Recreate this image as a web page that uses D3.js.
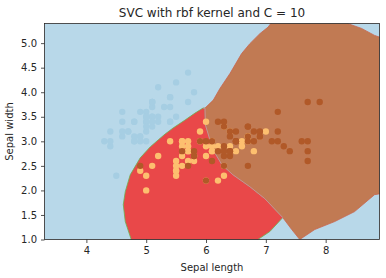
<!DOCTYPE html>
<html>
<head>
<meta charset="utf-8">
<script src="https://cdn.jsdelivr.net/npm/d3@7"></script>
<style>
  body { margin: 0; background: #fff; }
  text { font-family: "DejaVu Sans", sans-serif; fill: #262626; }
</style>
</head>
<body>
<div id="chart"></div>
<script>
// iris: sepal length / sepal width, grouped by class
const setosa = [
  [5.1,3.5],[4.9,3.0],[4.7,3.2],[4.6,3.1],[5.0,3.6],[5.4,3.9],[4.6,3.4],[5.0,3.4],[4.4,2.9],[4.9,3.1],
  [5.4,3.7],[4.8,3.4],[4.8,3.0],[4.3,3.0],[5.8,4.0],[5.7,4.4],[5.4,3.9],[5.1,3.5],[5.7,3.8],[5.1,3.8],
  [5.4,3.4],[5.1,3.7],[4.6,3.6],[5.1,3.3],[4.8,3.4],[5.0,3.0],[5.0,3.4],[5.2,3.5],[5.2,3.4],[4.7,3.2],
  [4.8,3.1],[5.4,3.4],[5.2,4.1],[5.5,4.2],[4.9,3.1],[5.0,3.2],[5.5,3.5],[4.9,3.6],[4.4,3.0],[5.1,3.4],
  [5.0,3.5],[4.5,2.3],[4.4,3.2],[5.0,3.5],[5.1,3.8],[4.8,3.0],[5.1,3.8],[4.6,3.2],[5.3,3.7],[5.0,3.3]
];
const versicolor = [
  [7.0,3.2],[6.4,3.2],[6.9,3.1],[5.5,2.3],[6.5,2.8],[5.7,2.8],[6.3,3.3],[4.9,2.4],[6.6,2.9],[5.2,2.7],
  [5.0,2.0],[5.9,3.0],[6.0,2.2],[6.1,2.9],[5.6,2.9],[6.7,3.1],[5.6,3.0],[5.8,2.7],[6.2,2.2],[5.6,2.5],
  [5.9,3.2],[6.1,2.8],[6.3,2.5],[6.1,2.8],[6.4,2.9],[6.6,3.0],[6.8,2.8],[6.7,3.0],[6.0,2.9],[5.7,2.6],
  [5.5,2.4],[5.5,2.4],[5.8,2.7],[6.0,2.7],[5.4,3.0],[6.0,3.4],[6.7,3.1],[6.3,2.3],[5.6,3.0],[5.5,2.5],
  [5.5,2.6],[6.1,3.0],[5.8,2.6],[5.0,2.3],[5.6,2.7],[5.7,3.0],[5.7,2.9],[6.2,2.9],[5.1,2.5],[5.7,2.8]
];
const virginica = [
  [6.3,3.3],[5.8,2.7],[7.1,3.0],[6.3,2.9],[6.5,3.0],[7.6,3.0],[4.9,2.5],[7.3,2.9],[6.7,2.5],[7.2,3.6],
  [6.5,3.2],[6.4,2.7],[6.8,3.0],[5.7,2.5],[5.8,2.8],[6.4,3.2],[6.5,3.0],[7.7,3.8],[7.7,2.6],[6.0,2.2],
  [6.9,3.2],[5.6,2.8],[7.7,2.8],[6.3,2.7],[6.7,3.3],[7.2,3.2],[6.2,2.8],[6.1,3.0],[6.4,2.8],[7.2,3.0],
  [7.4,2.8],[7.9,3.8],[6.4,2.8],[6.3,2.8],[6.1,2.6],[7.7,3.0],[6.3,3.4],[6.4,3.1],[6.0,3.0],[6.9,3.1],
  [6.7,3.1],[6.9,3.1],[5.8,2.7],[6.8,3.2],[6.7,3.3],[6.7,3.0],[6.3,2.5],[6.5,3.0],[6.2,3.4],[5.9,3.0]
];

// decision region outlines (data units); the rest is setosa
const versicolorRegion = [
  [4.75,0.9],[4.75,1.0],[4.65,1.365],[4.617,1.71],[4.65,1.974],[4.733,2.318],[4.9,2.663],[5.067,2.886],
  [5.2,3.028],[5.317,3.15],[5.45,3.272],[5.65,3.434],[5.817,3.576],[5.95,3.677],[5.983,3.677],
  [5.99,3.333],[6.117,2.826],[6.267,2.521],[6.45,2.318],[6.733,2.075],[6.983,1.832],[7.283,1.446],
  [7.067,1.162],[6.867,1.0],[6.85,0.9]
];
const virginicaRegion = [
  [5.983,3.677],[6.122,3.84],[6.233,4.077],[6.4,4.381],[6.595,4.787],[6.733,4.99],[6.9,5.193],
  [7.038,5.327],[7.083,5.4],[7.1,5.5],[8.3,5.5],[8.367,5.4],[8.6,5.3],[8.817,5.158],[9.0,5.08],
  [9.0,1.95],[8.817,1.913],[8.483,1.568],[8.15,1.365],[7.817,1.203],[7.567,1.0],[7.433,1.203],
  [7.283,1.446],[6.983,1.832],[6.733,2.075],[6.45,2.318],[6.267,2.521],[6.117,2.826],[5.99,3.333]
];

const xTicks = [4, 5, 6, 7, 8];
const yTicks = [1.0, 1.5, 2.0, 2.5, 3.0, 3.5, 4.0, 4.5, 5.0];

const W = 386, H = 278;
const margin = {left: 44.5, top: 23.5, right: 6.5, bottom: 38.5};
const w = W - margin.left - margin.right;
const h = H - margin.top - margin.bottom;

const svg = d3.select("#chart").append("svg")
  .attr("width", W)
  .attr("height", H);

const x = d3.scaleLinear().domain([3.3, 8.9]).range([0, w]);
const y = d3.scaleLinear().domain([1.0, 5.4]).range([h, 0]);

const g = svg.append("g").attr("transform", `translate(${margin.left},${margin.top})`);

svg.append("defs").append("clipPath").attr("id", "plotclip")
  .append("rect").attr("width", w).attr("height", h);

const plot = g.append("g").attr("clip-path", "url(#plotclip)");

// setosa region = background
plot.append("rect")
  .attr("width", w).attr("height", h)
  .attr("fill", "#b8d8e9");

const line = d3.line().x(d => x(d[0])).y(d => y(d[1]));

plot.append("path")
  .attr("d", line(versicolorRegion) + "Z")
  .attr("fill", "#e94849")
  .attr("stroke", "#6fb04c")
  .attr("stroke-width", 0.8);

plot.append("path")
  .attr("d", line(virginicaRegion) + "Z")
  .attr("fill", "#c17a53")
  .attr("stroke", "#c9654e")
  .attr("stroke-width", 0.8);

// boundary between red and brown is a pale line
plot.append("path")
  .attr("d", line(versicolorRegion.slice(13, 22)))
  .attr("fill", "none")
  .attr("stroke", "#c99aa8")
  .attr("stroke-width", 0.8);

// scatter, drawn in class order
const groups = [
  {pts: setosa, color: "#a6cee3"},
  {pts: versicolor, color: "#fdbf6f"},
  {pts: virginica, color: "#b15928"}
];
groups.forEach(grp => {
  plot.append("g").selectAll("circle")
    .data(grp.pts)
    .enter().append("circle")
    .attr("cx", d => x(d[0]))
    .attr("cy", d => y(d[1]))
    .attr("r", 3.2)
    .attr("fill", grp.color);
});

// axes
const xAxis = d3.axisBottom(x).tickValues(xTicks).tickFormat(d3.format("d")).tickSizeOuter(0).tickSize(3.5).tickPadding(4);
const yAxis = d3.axisLeft(y).tickValues(yTicks).tickFormat(d3.format(".1f")).tickSizeOuter(0).tickSize(3.5).tickPadding(4);

const gx = g.append("g").attr("transform", `translate(0,${h})`).call(xAxis);
const gy = g.append("g").call(yAxis);
[gx, gy].forEach(a => {
  a.select(".domain").remove();
  a.selectAll(".tick line").attr("stroke", "#262626").attr("stroke-width", 0.8);
  a.selectAll(".tick text").attr("font-size", 10).attr("font-family", "DejaVu Sans").attr("fill", "#262626");
});

g.append("rect")
  .attr("width", w).attr("height", h)
  .attr("fill", "none")
  .attr("stroke", "#262626")
  .attr("stroke-width", 0.8);

svg.append("text")
  .attr("x", margin.left + w / 2)
  .attr("y", 17)
  .attr("text-anchor", "middle")
  .attr("font-size", 12)
  .text("SVC with rbf kernel and C = 10");

svg.append("text")
  .attr("x", margin.left + w / 2)
  .attr("y", 271)
  .attr("text-anchor", "middle")
  .attr("font-size", 10)
  .text("Sepal length");

svg.append("text")
  .attr("transform", `translate(13,${margin.top + h / 2}) rotate(-90)`)
  .attr("text-anchor", "middle")
  .attr("font-size", 10)
  .text("Sepal width");
</script>
</body>
</html>
